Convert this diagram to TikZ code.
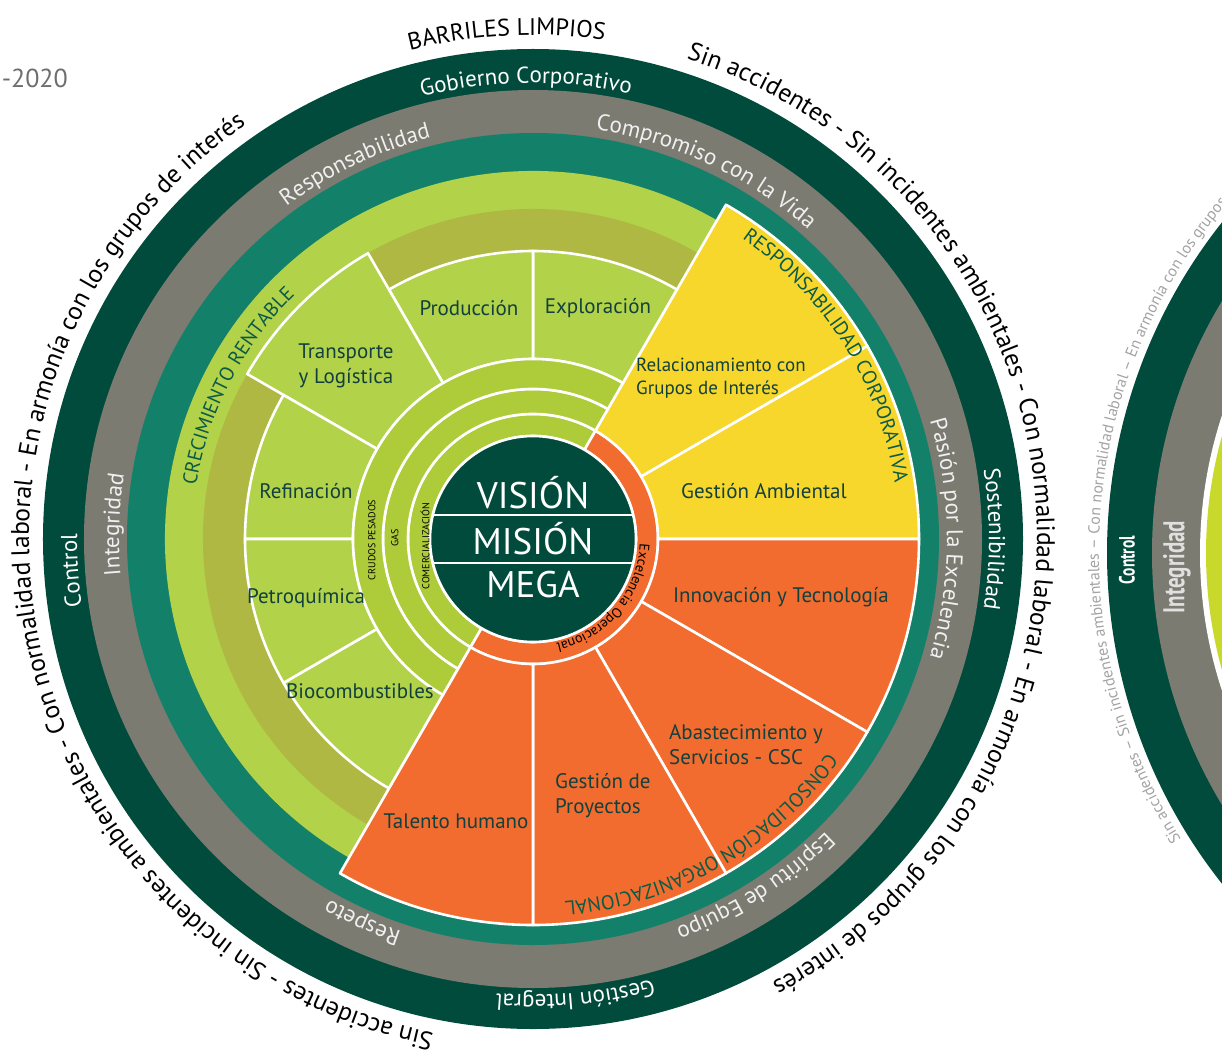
\documentclass[tikz,border=0pt]{standalone}
\usepackage{fontspec}
\setmainfont{PT Sans}
\newfontfamily\narrowfont[FakeStretch=0.7]{PT Sans}
\usetikzlibrary{decorations.text}

\definecolor{ringdark}{HTML}{004B3B}
\definecolor{ringgray}{HTML}{7B7B71}
\definecolor{ringteal}{HTML}{138069}
\definecolor{bandlime}{HTML}{B2D24A}
\definecolor{bandolive}{HTML}{AFB843}
\definecolor{innergreen}{HTML}{AECC3A}
\definecolor{sunyellow}{HTML}{F7D72B}
\definecolor{burntorange}{HTML}{F26C2F}
\definecolor{inktext}{HTML}{12403E}
\definecolor{headgreen}{HTML}{0B5A47}
\definecolor{yeargray}{HTML}{6D6E70}
\definecolor{fadegray}{HTML}{A3A3A3}
\definecolor{fadelime}{HTML}{C8D92C}

\tikzset{sectorline/.style = {draw=white, line width=2.6pt, line join=round}}
\tikzset{sectorlabel/.style = {text=inktext, font=\fontsize{21}{25}\selectfont, align=center, inner sep=0pt}}
\tikzset{leftlabel/.style = {sectorlabel, align=left, anchor=west}}
\tikzset{ringlabel/.style = {text=black, font=\fontsize{10}{12}\selectfont, rotate=90, inner sep=0pt}}
\tikzset{corelabel/.style = {text=white, font=\fontsize{37}{40}\selectfont, inner sep=0pt}}

% ring piece between two angles and two radii
\newcommand{\annulus}[4]{(#1:#3) arc[start angle=#1, end angle=#2, radius=#3]
    -- (#2:#4) arc[start angle=#2, end angle=#1, radius=#4] -- cycle}
% text on a clockwise arc: radius, centre angle, half span, format, text
\newcommand{\arclabel}[5]{\path[decorate, decoration={text along path, text align=center,
    text={|#4|#5}}] (#2+#3:#1) arc[start angle=#2+#3, end angle=#2-#3, radius=#1];}

\newcommand{\outerfont}{\fontsize{25.5}{25.5}\selectfont\color{black}}
\newcommand{\titlefont}{\fontsize{24}{24}\selectfont\color{black}}
\newcommand{\darkfont}{\fontsize{23}{23}\selectfont\color{white}}
\newcommand{\grayfont}{\fontsize{23}{23}\selectfont\color{white!94!black}}
\newcommand{\headfont}{\fontsize{20}{20}\selectfont\color{headgreen}}

\begin{document}
\begin{tikzpicture}[x=1pt, y=1pt]
    \useasboundingbox (-533,-514) rectangle (689,539);

    % outer rings
    \fill[ringdark] (0,0) circle[radius=490pt];
    \fill[ringgray] (0,0) circle[radius=449pt];
    \fill[ringteal] (0,0) circle[radius=406pt];

    % green half
    \fill[bandlime]  (0,0) -- (60:368pt) arc[start angle=60, end angle=240, radius=368pt] -- cycle;
    \fill[bandolive] (0,0) -- (60:330pt) arc[start angle=60, end angle=240, radius=330pt] -- cycle;
    \foreach \From/\To/\Outer in {60/90/288, 90/120/288, 120/150/330,
                                  150/180/288, 180/210/288, 210/240/288}
        \filldraw[sectorline, fill=bandlime] \annulus{\From}{\To}{180pt}{\Outer pt};
    \foreach \Inner/\Outer in {103/125, 125/150, 150/180}
        \filldraw[sectorline, fill=innergreen] \annulus{60}{240}{\Inner pt}{\Outer pt};

    % yellow and orange half
    \filldraw[sectorline, fill=burntorange] \annulus{60}{-120}{103pt}{125pt};
    \foreach \From/\To/\Tint in {60/30/sunyellow, 30/0/sunyellow, 0/-30/burntorange,
                                 -30/-60/burntorange, -60/-90/burntorange, -90/-120/burntorange}
        \filldraw[sectorline, fill=\Tint] \annulus{\From}{\To}{125pt}{386pt};

    % core
    \filldraw[sectorline, fill=ringdark] (0,0) circle[radius=103pt];
    \draw[sectorline] (13.5:103pt) -- (166.5:103pt);
    \draw[sectorline] (-13.5:103pt) -- (-166.5:103pt);
    \node[corelabel] (vision) at (0,46) {VISIÓN};
    \node[corelabel] (mision) at (0,0) {MISIÓN};
    \node[corelabel] (mega) at (0,-46) {MEGA};

    % inner rings
    \node[ringlabel] (comercial) at (-108,-7) {COMERCIALIZACIÓN};
    \node[ringlabel] (gas) at (-138,1) {GAS};
    \node[ringlabel] (crudos) at (-161,-1) {CRUDOS PESADOS};
    \arclabel{107pt}{-40}{60}{\fontsize{14}{14}\selectfont\color{black}}{Excelencia Operacional}

    % sectors
    \node[sectorlabel] (produccion) at (-64,231) {Producción};
    \node[sectorlabel] (exploracion) at (65,231) {Exploración};
    \node[sectorlabel] (transporte) at (-187,173) {Transporte\\y Logística};
    \node[sectorlabel] (refinacion) at (-227,48) {Refinación};
    \node[sectorlabel] (petroquimica) at (-227,-59) {Petroquímica};
    \node[sectorlabel] (biocomb) at (-173,-152) {Biocombustibles};
    \node[leftlabel, font=\fontsize{19}{23}\selectfont] (grupos) at (103,161) {Relacionamiento con\\Grupos de Interés};
    \node[sectorlabel] (ambiental) at (231,48) {Gestión Ambiental};
    \node[sectorlabel] (innovacion) at (248,-58) {Innovación y Tecnología};
    \node[leftlabel] (abastec) at (136,-206) {Abastecimiento y\\Servicios - CSC};
    \node[leftlabel] (proyectos) at (22,-257) {Gestión de\\Proyectos};
    \node[sectorlabel] (talento) at (-77,-282) {Talento humano};

    \arclabel{341pt}{152.6}{60}{\headfont}{CRECIMIENTO RENTABLE}
    \arclabel{366pt}{32}{60}{\headfont}{RESPONSABILIDAD CORPORATIVA}
    \arclabel{364pt}{-60.5}{60}{\headfont}{CONSOLIDACIÓN ORGANIZACIONAL}

    % ring words
    \arclabel{456pt}{90.9}{40}{\darkfont}{Gobierno Corporativo}
    \arclabel{456pt}{0}{40}{\darkfont}{Sostenibilidad}
    \arclabel{456pt}{-84.7}{40}{\darkfont}{Gestión Integral}
    \arclabel{456pt}{183.9}{40}{\darkfont}{Control}
    \arclabel{414pt}{115.4}{40}{\grayfont}{Responsabilidad}
    \arclabel{414pt}{64.8}{40}{\grayfont}{Compromiso con la Vida}
    \arclabel{414pt}{178}{40}{\grayfont}{Integridad}
    \arclabel{414pt}{0}{40}{\grayfont}{Pasión por la Excelencia}
    \arclabel{414pt}{-57.4}{40}{\grayfont}{Espíritu de Equipo}
    \arclabel{414pt}{-114}{40}{\grayfont}{Respeto}

    % outside words
    \arclabel{504pt}{93}{30}{\titlefont}{BARRILES LIMPIOS}
    \arclabel{504pt}{5.3}{80}{\outerfont}{Sin accidentes - Sin incidentes ambientales - Con normalidad laboral - En armonía con los grupos de interés}
    \arclabel{504pt}{191.7}{80}{\outerfont}{Sin accidentes - Sin incidentes ambientales - Con normalidad laboral - En armonía con los grupos de interés}

    \node[text=yeargray, font=\fontsize{26}{26}\selectfont, anchor=east, inner sep=0pt] (year) at (-465,461) {-2020};

    % next picture, cut by the page
    \begin{scope}
        \clip (-533,-514) rectangle (689,539);
        \begin{scope}[shift={(1107,-14)}]
            \fill[ringdark] (0,0) circle[radius=533pt];
            \fill[ringgray] (0,0) circle[radius=488pt];
            \fill[white] (0,0) circle[radius=440pt];
            \fill[fadelime] (0,0) circle[radius=434pt];
            \node[text=white, font=\narrowfont\bfseries\fontsize{22}{22}\selectfont, rotate=90] (control) at (-513,-7) {Control};
            \node[text=white!88!black, font=\narrowfont\bfseries\fontsize{30}{30}\selectfont, rotate=90] (integridad) at (-463,-14) {Integridad};
            \path[decorate, decoration={text along path, text align=left,
                text={|\fontsize{16}{16}\selectfont\color{fadegray}|Sin accidentes – Sin incidentes ambientales – Con normalidad laboral – En armonía con los grupos de interés}}]
                (212:541pt) arc[start angle=212, end angle=60, radius=541pt];
        \end{scope}
    \end{scope}
\end{tikzpicture}
\end{document}
